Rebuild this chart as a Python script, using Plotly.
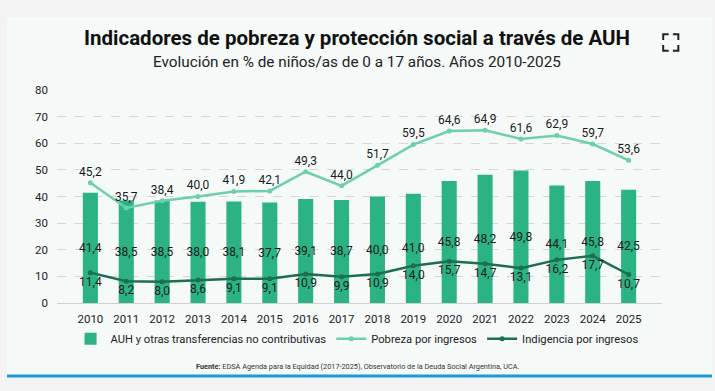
import plotly.graph_objects as go

years = [str(y) for y in range(2010, 2026)]
auh = [41.4, 38.5, 38.5, 38.0, 38.1, 37.7, 39.1, 38.7, 40.0, 41.0, 45.8, 48.2, 49.8, 44.1, 45.8, 42.5]
pobreza = [45.2, 35.7, 38.4, 40.0, 41.9, 42.1, 49.3, 44.0, 51.7, 59.5, 64.6, 64.9, 61.6, 62.9, 59.7, 53.6]
indigencia = [11.4, 8.2, 8.0, 8.6, 9.1, 9.1, 10.9, 9.9, 10.9, 14.0, 15.7, 14.7, 13.1, 16.2, 17.7, 10.7]
y_ticks = [0, 10, 20, 30, 40, 50, 60, 70, 80]

FONT = "Roboto, sans-serif"
TXT = "#1a1a1a"

def fmt(v):
    return f"{v:.1f}".replace(".", ",")

fig = go.Figure()
fig.add_trace(go.Bar(
    x=years, y=auh, name="AUH y otras transferencias no contributivas",
    marker=dict(color="#2bb383", line=dict(width=0)), width=0.42,
    text=[fmt(v) for v in auh], textposition="inside", insidetextanchor="middle",
    textangle=0, constraintext="none",
    textfont=dict(color=TXT, size=12, family=FONT),
))
fig.add_trace(go.Scatter(
    x=years, y=pobreza, name="Pobreza por ingresos", mode="lines+markers+text",
    line=dict(color="#6dd0a8", width=2.5), marker=dict(size=5, color="#6dd0a8"),
    text=[fmt(v) for v in pobreza], textposition="top center",
    textfont=dict(color=TXT, size=12, family=FONT), cliponaxis=False,
))
fig.add_trace(go.Scatter(
    x=years, y=indigencia, name="Indigencia por ingresos", mode="lines+markers+text",
    line=dict(color="#1d6e4c", width=2.5), marker=dict(size=5, color="#1d6e4c"),
    text=[fmt(v) for v in indigencia], textposition="bottom center",
    textfont=dict(color=TXT, size=12, family=FONT), cliponaxis=False,
))

ic = dict(color="#222", width=2)
shapes = [
    dict(type="rect", xref="paper", yref="paper", x0=-0.0826, x1=1.0826, y0=-0.343, y1=1.343,
         fillcolor="#f5faf9", line=dict(width=0), layer="below"),
    dict(type="line", xref="paper", yref="paper", x0=-0.0826, x1=1.0826, y0=-0.343, y1=-0.343,
         line=dict(color="#1b9ad6", width=3)),
    # fullscreen icon
    dict(type="path", xref="paper", yref="paper", path="M 1.002 1.235 L 1.002 1.262 L 1.011 1.262", line=ic),
    dict(type="path", xref="paper", yref="paper", path="M 1.018 1.262 L 1.027 1.262 L 1.027 1.235", line=ic),
    dict(type="path", xref="paper", yref="paper", path="M 1.002 1.211 L 1.002 1.184 L 1.011 1.184", line=ic),
    dict(type="path", xref="paper", yref="paper", path="M 1.018 1.184 L 1.027 1.184 L 1.027 1.211", line=ic),
]

annotations = [
    dict(text="<b>Indicadores de pobreza y protección social a través de AUH</b>",
         xref="paper", yref="paper", x=0.496, y=1.244, showarrow=False,
         font=dict(size=20.5, color="#111", family=FONT), xanchor="center", yanchor="middle"),
    dict(text="Evolución en % de niños/as de 0 a 17 años. Años 2010-2025",
         xref="paper", yref="paper", x=0.496, y=1.131, showarrow=False,
         font=dict(size=15.3, color="#222", family=FONT), xanchor="center", yanchor="middle"),
    dict(text="<b>Fuente:</b> EDSA Agenda para la Equidad (2017-2025), Observatorio de la Deuda Social Argentina, UCA.",
         xref="paper", yref="paper", x=0.496, y=-0.296, showarrow=False,
         font=dict(size=7.3, color="#333", family=FONT), xanchor="center", yanchor="middle"),
]

fig.update_layout(
    width=715, height=391,
    margin=dict(l=57, r=53, t=90, b=88, autoexpand=False),
    paper_bgcolor="#f3f3f3", plot_bgcolor="rgba(0,0,0,0)",
    font=dict(family=FONT, color="#222"),
    showlegend=True,
    legend=dict(orientation="h", x=0.496, xanchor="center", y=-0.168, yanchor="middle",
                font=dict(size=11.2, family=FONT, color="#222"), bgcolor="rgba(0,0,0,0)",
                itemwidth=30),
    xaxis=dict(type="category", showgrid=False, tickfont=dict(size=11.5, family=FONT, color="#222"),
               ticks="", showline=False, zeroline=False, automargin=False,
               ticklabelstandoff=7),
    yaxis=dict(range=[0, 80], tickvals=y_ticks, showgrid=True, gridcolor="#d6d6d6",
               griddash="dash", gridwidth=1, zeroline=True, zerolinecolor="#d0d0d0",
               zerolinewidth=1, tickfont=dict(size=11.5, family=FONT, color="#222"),
               ticklabelstandoff=8, automargin=False),
    shapes=shapes, annotations=annotations,
)

fig.write_html("out.html", config={"displayModeBar": False},
               post_script="document.body.style.margin='0';")
